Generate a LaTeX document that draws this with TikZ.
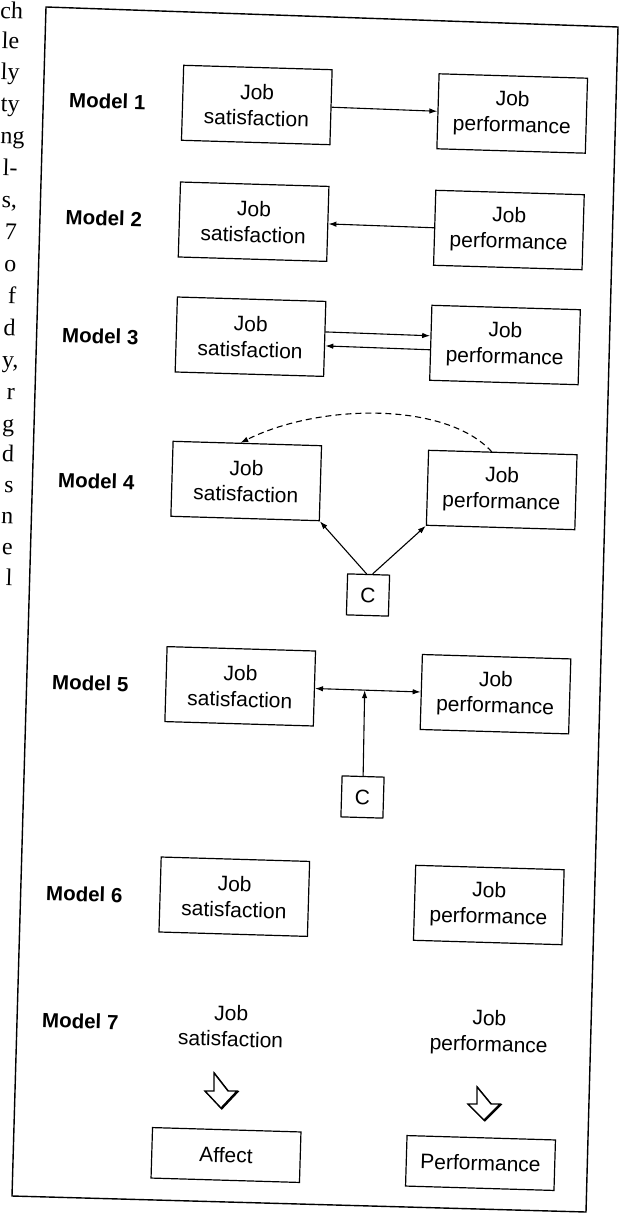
\documentclass[tikz,border=0pt]{standalone}
\usepackage{fontspec}
\setmainfont{Liberation Sans}
\newfontfamily\pageserif{Liberation Serif}
\usetikzlibrary{arrows.meta,calc}
\newcommand\diagfont{\fontsize{21}{26}\selectfont}
\begin{document}
\begin{tikzpicture}[x=1pt,y=-1pt,
  every node/.style={inner sep=0pt},
  box/.style={draw, line width=1.2pt, rotate=-1.7, minimum width=148.5pt, minimum height=75pt, align=center, font=\diagfont},
  cbox/.style={draw, line width=1.2pt, rotate=-1.7, minimum width=42pt, minimum height=41pt, font=\diagfont},
  lowbox/.style={draw, line width=1.2pt, rotate=-1.7, minimum width=148.5pt, minimum height=50.5pt, font=\diagfont},
  plain/.style={rotate=-1.7, align=center, font=\diagfont},
  modlab/.style={anchor=west, rotate=-1.7, font=\fontsize{20.5}{24}\selectfont\bfseries},
  frag/.style={anchor=base east, rotate=-1.7, font=\fontsize{24}{28}\selectfont\pageserif},
  conn/.style={line width=1.1pt, -{Latex[length=8pt,width=5.5pt]}},
  dconn/.style={line width=1.1pt, dash pattern=on 6pt off 4pt, -{Latex[length=8pt,width=5.5pt]}},
  hshadow/.style={line width=1.4pt, line join=miter, fill=black},
  hbody/.style={line width=1.3pt, line join=miter, fill=white}
]
\useasboundingbox (0,0) rectangle (622,1222);

% page text fragments at the left edge
\node[frag] (f1) at (23,19) {ch};
\node[frag] (f2) at (19.2,49) {le};
\node[frag] (f3) at (19.5,80) {ly};
\node[frag] (f4) at (19.5,112) {ty};
\node[frag] (f5) at (24.5,144) {ng};
\node[frag] (f6) at (17.6,176) {l-};
\node[frag] (f7) at (17.2,208) {s,};
\node[frag] (f8) at (16.8,240) {7};
\node[frag] (f9) at (16.4,272) {o};
\node[frag] (f10) at (16.0,304) {f};
\node[frag] (f11) at (15.6,336) {d};
\node[frag] (f12) at (18.5,368) {y,};
\node[frag] (f13) at (14.8,400) {r};
\node[frag] (f14) at (14.4,432) {g};
\node[frag] (f15) at (14.0,462) {d};
\node[frag] (f16) at (13.6,493) {s};
\node[frag] (f17) at (13.2,524) {n};
\node[frag] (f18) at (12.8,555) {e};
\node[frag] (f19) at (12.4,586) {l};

% frame
\coordinate (ftl) at (46,7);
\coordinate (ftr) at (618,27);
\coordinate (fbr) at (586,1212);
\coordinate (fbl) at (12,1196);
\draw[line width=1.4pt] (ftl) -- (ftr) -- (fbr) -- (fbl) -- cycle;

% model labels
\node[modlab] (l1) at (69,100) {Model 1};
\node[modlab] (l2) at (65.5,217) {Model 2};
\node[modlab] (l3) at (62,335) {Model 3};
\node[modlab] (l4) at (58,480) {Model 4};
\node[modlab] (l5) at (52,682) {Model 5};
\node[modlab] (l6) at (46,893) {Model 6};
\node[modlab] (l7) at (42,1020) {Model 7};

% Model 1
\node[box] (js1) at (256.8,105) {Job\\satisfaction};
\node[box] (jp1) at (512.2,113.5) {Job\\performance};
\draw[conn] (js1.east) -- (jp1.west);

% Model 2
\node[box] (js2) at (253.6,221.7) {Job\\satisfaction};
\node[box] (jp2) at (508.9,230) {Job\\performance};
\draw[conn] (jp2.west) -- (js2.east);

% Model 3
\node[box] (js3) at (250.5,336.7) {Job\\satisfaction};
\node[box] (jp3) at (505,345) {Job\\performance};
\draw[conn] ([yshift=7pt]js3.east) -- ([yshift=7pt]jp3.west);
\draw[conn] ([yshift=-7pt]jp3.west) -- ([yshift=-7pt]js3.east);

% Model 4
\node[box] (js4) at (246.2,481) {Job\\satisfaction};
\node[box] (jp4) at (501.7,490) {Job\\performance};
\node[cbox] (c4) at (368,595) {C};
\draw[conn] ([xshift=-2pt]c4.north) -- (js4.south east);
\draw[conn] ([xshift=4pt]c4.north) -- (jp4.south west);
\draw[dconn] ([xshift=-11pt]jp4.north) .. controls +(-45,-50) and +(80,-40) .. ([xshift=-7pt]js4.north);

% Model 5
\node[box] (js5) at (240.2,686.3) {Job\\satisfaction};
\node[box] (jp5) at (495.5,694.2) {Job\\performance};
\node[cbox] (c5) at (362.5,797) {C};
\draw[line width=1.1pt, {Latex[length=8pt,width=5.5pt]}-{Latex[length=8pt,width=5.5pt]}] (js5.east) -- (jp5.west);
\coordinate (m5x) at ($(js5.east)!0.47!(jp5.west)$);
\draw[conn] (c5.north) -- (m5x);

% Model 6
\node[box] (js6) at (234.3,896.7) {Job\\satisfaction};
\node[box] (jp6) at (488.8,905) {Job\\performance};

% Model 7
\node[plain] (t7s) at (231,1026) {Job\\satisfaction};
\node[plain] (t7p) at (489,1033) {Job\\performance};
% hollow down arrows
\draw[hshadow] (214.8,1073.8) -- (214.8,1091.8) -- (205.8,1091.8) -- (221.8,1108.8) -- (237.8,1091.8) -- (228.8,1091.8) -- cycle;
\draw[hbody] (214,1073) -- (214,1091) -- (205,1091) -- (221,1108) -- (237,1091) -- (228,1091) -- cycle;
\draw[hshadow] (477.8,1087.8) -- (477.8,1104.8) -- (468.8,1104.8) -- (484.8,1120.8) -- (500.8,1104.8) -- (491.8,1104.8) -- cycle;
\draw[hbody] (477,1087) -- (477,1104) -- (468,1104) -- (484,1120) -- (500,1104) -- (491,1104) -- cycle;
\node[lowbox] (aff) at (226,1155) {Affect};
\node[lowbox] (perf) at (480.5,1163) {Performance};
\end{tikzpicture}
\end{document}
